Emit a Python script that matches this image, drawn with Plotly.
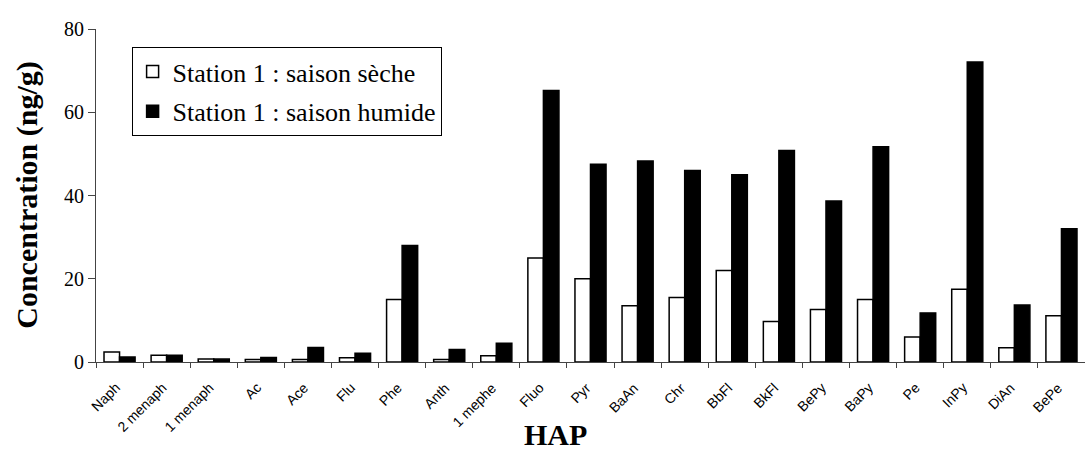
import plotly.graph_objects as go

categories = ["Naph", "2 menaph", "1 menaph", "Ac", "Ace", "Flu", "Phe", "Anth", "1 mephe",
              "Fluo", "Pyr", "BaAn", "Chr", "BbFl", "BkFl", "BePy", "BaPy", "Pe", "InPy", "DiAn", "BePe"]
saison_seche = [2.4, 1.6, 0.7, 0.6, 0.6, 1.0, 15.0, 0.6, 1.5,
                25.0, 20.0, 13.5, 15.5, 22.0, 9.7, 12.6, 15.0, 6.0, 17.5, 3.4, 11.1]
saison_humide = [1.2, 1.6, 0.7, 1.1, 3.5, 2.1, 28.0, 3.0, 4.5,
                 65.2, 47.5, 48.3, 46.0, 45.0, 50.8, 38.7, 51.7, 11.8, 72.1, 13.7, 32.0]
y_ticks = [0, 20, 40, 60, 80]

fig = go.Figure()
fig.add_trace(go.Bar(x=categories, y=saison_seche, name="Station 1 : saison sèche",
                     legendgroup="a",
                     marker=dict(color="white", line=dict(color="black", width=1.5))))
fig.add_trace(go.Bar(x=categories, y=saison_humide, name="Station 1 : saison humide",
                     legendgroup="b",
                     marker=dict(color="black", line=dict(color="black", width=1.5))))

label_annotations = [
    dict(text=c, x=c, xref="x", y=0, yref="y", xanchor="right", yanchor="top",
         xshift=6, yshift=-15, textangle=-45, showarrow=False,
         font=dict(family="Liberation Sans", size=14, color="black"))
    for c in categories
]

fig.update_layout(
    width=1085, height=450,
    margin=dict(l=96, r=0, t=29, b=88),
    paper_bgcolor="white", plot_bgcolor="white",
    barmode="group", bargap=0.34, bargroupgap=0,
    font=dict(family="Liberation Serif", color="black"),
    showlegend=True,
    legend=dict(x=0.036, y=0.946, xanchor="left", yanchor="top",
                bgcolor="white", bordercolor="black", borderwidth=1,
                font=dict(family="Liberation Serif", size=26, color="black"),
                tracegroupgap=3),
    xaxis=dict(type="category", range=[-0.5, len(categories) - 0.5],
               showline=True, linecolor="#444", linewidth=1, ticks="outside",
               tickson="boundaries", ticklen=5, tickcolor="#444", showticklabels=False,
               automargin=False, showgrid=False, zeroline=False),
    yaxis=dict(range=[0, 80], tickvals=y_ticks, showline=True, linecolor="#444", linewidth=1,
               ticks="outside", ticklen=7, tickcolor="#444",
               tickfont=dict(family="Liberation Serif", size=20, color="black"),
               automargin=False, showgrid=False, zeroline=False),
    annotations=label_annotations + [
        dict(text="<b>HAP</b>", xref="paper", yref="paper", x=0.465, y=-0.218,
             xanchor="center", yanchor="middle", showarrow=False,
             font=dict(family="Liberation Serif", size=30, color="black")),
        dict(text="<b>Concentration (ng/g)</b>", xref="paper", yref="paper",
             x=-0.0705, y=0.5, xanchor="center", yanchor="middle", textangle=-90,
             showarrow=False, font=dict(family="Liberation Serif", size=30, color="black")),
    ],
)

fig.write_html("out.html", config={"displayModeBar": False},
               post_script="document.body.style.margin='0';")
